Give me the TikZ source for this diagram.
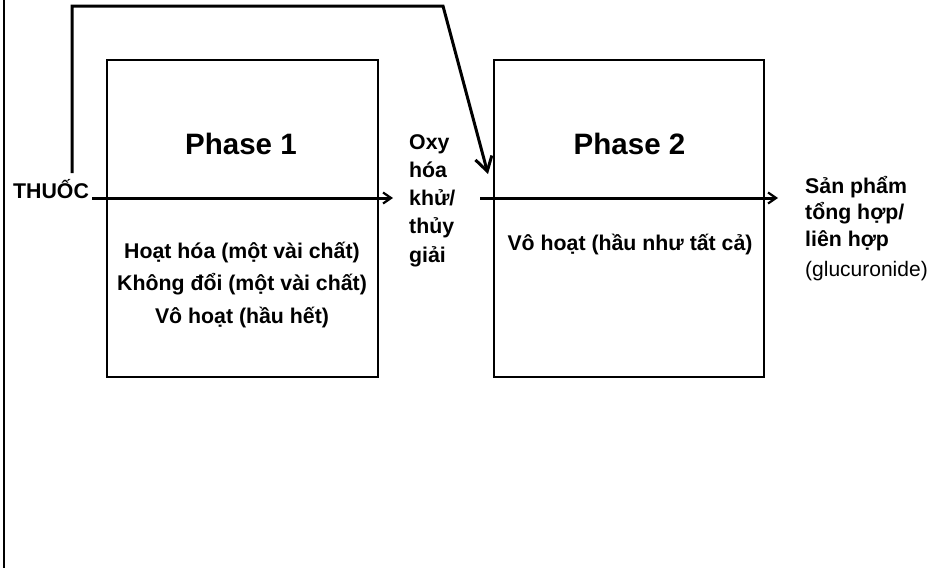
\documentclass[tikz,border=0pt]{standalone}
\usepackage{fontspec}
\setmainfont{Liberation Sans}
\usetikzlibrary{arrows.meta}
\begin{document}
\begin{tikzpicture}[x=1pt,y=-1pt,
  conn/.style={line width=3pt},
  smallhead/.style={-{Straight Barb[length=8pt,width=11pt,line width=2.2pt]}},
  bighead/.style={-{Straight Barb[length=14pt,width=17pt,line width=3pt]}},
  phasebox/.style={draw, line width=1.3pt, inner sep=0, minimum height=317pt},
  title/.style={font=\bfseries\fontsize{29.5}{34}\selectfont, inner sep=0, anchor=base},
  bodytext/.style={font=\bfseries\fontsize{21.3}{32.5}\selectfont, inner sep=0, align=center},
  sidetext/.style={font=\bfseries\fontsize{21.3}{28.3}\selectfont, inner sep=0, align=left},
  plain/.style={font=\fontsize{21}{25}\selectfont, inner sep=0}]
\useasboundingbox (0,0) rectangle (932,571);

% left border line
\coordinate (lt) at (4,0);
\coordinate (lb) at (4,568);
\draw[line width=2.5pt] (lt) -- (lb);

% boxes
\node[phasebox, minimum width=271pt] (p1) at (242.5,218.5) {};
\node[phasebox, minimum width=270pt] (p2) at (629,218.5) {};

% titles
\node[title] (t1) at (241,154) {Phase 1};
\node[title] (t2) at (629.5,154) {Phase 2};

% box texts
\node[bodytext, anchor=base] (b1) at (242,258) {\vtop{\halign{\hfil#\hfil\cr Hoạt hóa (một vài chất)\cr Không đổi (một vài chất)\cr Vô hoạt (hầu hết)\cr}}};
\node[bodytext, anchor=base] (b2) at (630,250) {Vô hoạt (hầu như tất cả)};

% side texts
\node[font=\bfseries\fontsize{21.3}{25}\selectfont, inner sep=0, anchor=base west] (thuoc) at (13,198) {THUỐC};
\node[sidetext, anchor=base west] (oxy) at (409,149) {\vtop{\halign{#\hfil\cr Oxy\cr hóa\cr khử/\cr thủy\cr giải\cr}}};
\node[font=\bfseries\fontsize{21.3}{26.5}\selectfont, inner sep=0, anchor=base west] (sp) at (805,193) {\vtop{\halign{#\hfil\cr Sản phẩm\cr tổng hợp/\cr liên hợp\cr}}};
\node[plain, anchor=base west] (gl) at (805,276) {(glucuronide)};

% connectors
\coordinate (a1s) at (92,198);
\coordinate (a1e) at (393,198);
\draw[conn, smallhead] (a1s) -- (a1e);

\coordinate (a2s) at (480,198);
\coordinate (a2e) at (778,198);
\draw[conn, smallhead] (a2s) -- (a2e);

\coordinate (ts) at (72,173);
\coordinate (tc1) at (72,6);
\coordinate (tc2) at (443,6);
\coordinate (te) at (488,174);
\draw[conn, bighead, line join=miter] (ts) -- (tc1) -- (tc2) -- (te);
\end{tikzpicture}
\end{document}
